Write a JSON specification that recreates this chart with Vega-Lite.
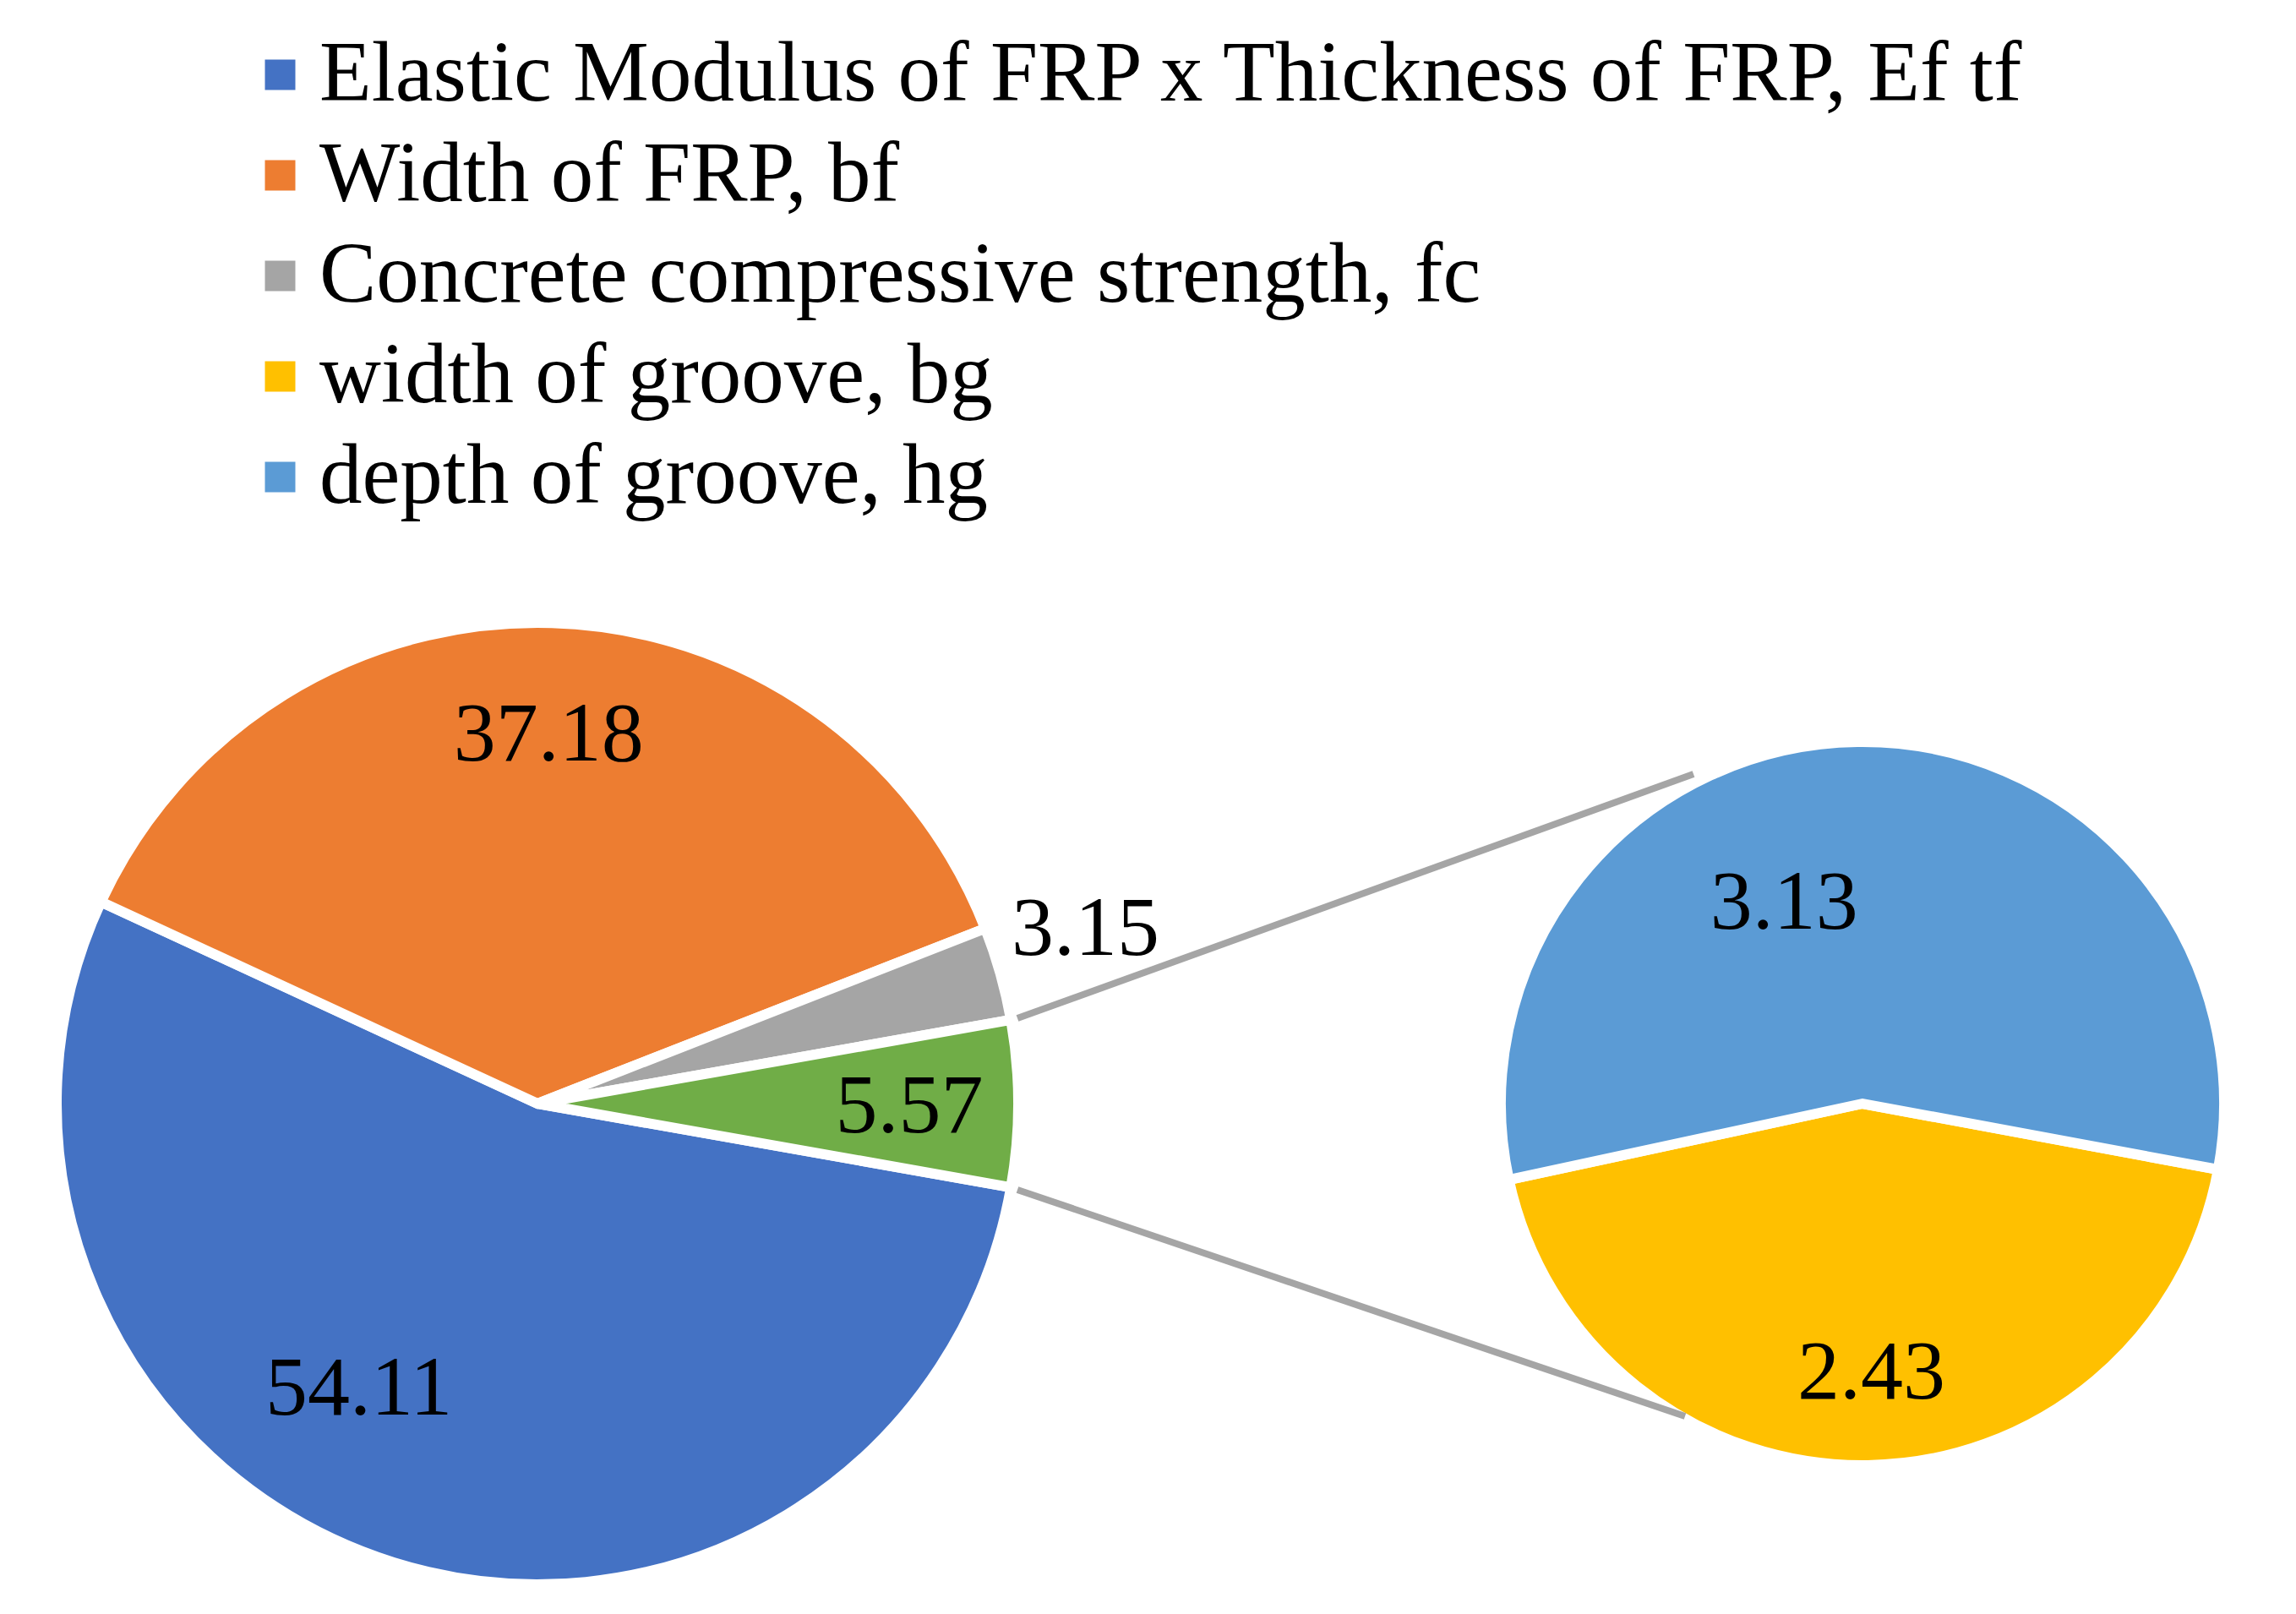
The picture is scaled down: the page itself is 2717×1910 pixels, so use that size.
{
  "$schema": "https://vega.github.io/schema/vega-lite/v6.json",
  "width": 2717,
  "height": 1208,
  "autosize": {"type": "none"},
  "padding": {"left": 0, "top": 702, "right": 0, "bottom": 0},
  "background": "white",
  "config": {"view": {"stroke": null}, "font": "Liberation Serif"},
  "datasets": {
    "main": [
      {"key": "Elastic Modulus of FRP x Thickness of FRP, Ef tf", "id": "ef", "value": 54.11, "order": 1, "pie": "main"},
      {"key": "Width of FRP, bf", "id": "bf", "value": 37.18, "order": 2, "pie": "main"},
      {"key": "Concrete compressive strength, fc", "id": "fc", "value": 3.15, "order": 3, "pie": "main"},
      {"key": "Other", "id": "other", "value": 5.57, "order": 4, "pie": "main"}
    ],
    "secondary": [
      {"key": "width of groove, bg", "id": "bg", "value": 2.43, "order": 1, "pie": "secondary"},
      {"key": "depth of groove, hg", "id": "hg", "value": 3.13, "order": 2, "pie": "secondary"}
    ],
    "connectors": [
      {"pie": "main", "to": "secondary", "side": "top"},
      {"pie": "main", "to": "secondary", "side": "bottom"}
    ]
  },
  "layer": [
    {
      "data": {"name": "main"},
      "encoding": {
        "x": {"field": "pie", "type": "nominal", "scale": {"type": "point", "domain": ["main", "secondary"], "padding": 0.36639, "align": 0.55352}, "axis": null},
        "theta": {"field": "value", "type": "quantitative", "stack": true, "scale": {"type": "linear", "range": [1.745765, 8.02895], "zero": true, "nice": false}},
        "order": {"field": "order", "type": "quantitative"}
      },
      "layer": [
        {
          "mark": {"type": "arc", "outerRadius": 569, "stroke": "white", "strokeWidth": 12},
          "encoding": {
            "color": {
              "field": "key", "type": "nominal",
              "scale": {
                "domain": ["Elastic Modulus of FRP x Thickness of FRP, Ef tf", "Width of FRP, bf", "Concrete compressive strength, fc", "width of groove, bg", "depth of groove, hg", "Other"],
                "range": ["#4472C4", "#ED7D31", "#A5A5A5", "#FFC000", "#5B9BD5", "#70AD47"]
              },
              "legend": {
                "orient": "none", "legendX": 281, "legendY": -664, "direction": "vertical", "title": null,
                "values": ["Elastic Modulus of FRP x Thickness of FRP, Ef tf", "Width of FRP, bf", "Concrete compressive strength, fc", "width of groove, bg", "depth of groove, hg"],
                "symbolType": "square", "symbolSize": 1296, "symbolStrokeWidth": 0,
                "labelFont": "Liberation Serif", "labelFontSize": 101, "labelColor": "black",
                "labelOffset": -4, "rowPadding": 17, "padding": 0, "labelLimit": 0
              }
            }
          }
        },
        {
          "mark": {"type": "text", "radius": 440, "dy": 4, "fontSize": 100, "font": "Liberation Serif", "color": "black", "align": "center", "baseline": "middle"},
          "encoding": {
            "detail": {"field": "key"},
            "text": {"field": "value", "type": "quantitative", "format": ".2f"},
            "opacity": {"condition": {"test": "datum.id == 'bf' || datum.id == 'other'", "value": 1}, "value": 0}
          }
        },
        {
          "mark": {"type": "text", "radius": 392, "dx": -94, "dy": -36, "fontSize": 100, "font": "Liberation Serif", "color": "black", "align": "center", "baseline": "middle"},
          "encoding": {
            "detail": {"field": "key"},
            "text": {"field": "value", "type": "quantitative", "format": ".2f"},
            "opacity": {"condition": {"test": "datum.id == 'ef'", "value": 1}, "value": 0}
          }
        },
        {
          "mark": {"type": "text", "radius": 681, "dx": -7, "dy": -22, "fontSize": 100, "font": "Liberation Serif", "color": "black", "align": "center", "baseline": "middle"},
          "encoding": {
            "detail": {"field": "key"},
            "text": {"field": "value", "type": "quantitative", "format": ".2f"},
            "opacity": {"condition": {"test": "datum.id == 'fc'", "value": 1}, "value": 0}
          }
        }
      ]
    },
    {
      "data": {"name": "secondary"},
      "encoding": {
        "x": {"field": "pie", "type": "nominal", "scale": {"type": "point", "domain": ["main", "secondary"], "padding": 0.36639, "align": 0.55352}, "axis": null},
        "theta": {"field": "value", "type": "quantitative", "stack": true, "scale": {"type": "linear", "range": [1.754056, 8.037241], "zero": true, "nice": false}},
        "order": {"field": "order", "type": "quantitative"}
      },
      "layer": [
        {
          "mark": {"type": "arc", "outerRadius": 428, "stroke": "white", "strokeWidth": 12},
          "encoding": {
            "color": {"field": "key", "type": "nominal"}
          }
        },
        {
          "mark": {"type": "text", "radius": 250, "dx": -89, "dy": 13, "fontSize": 100, "font": "Liberation Serif", "color": "black", "align": "center", "baseline": "middle"},
          "encoding": {
            "detail": {"field": "key"},
            "text": {"field": "value", "type": "quantitative", "format": ".2f"},
            "opacity": {"condition": {"test": "datum.id == 'hg'", "value": 1}, "value": 0}
          }
        },
        {
          "mark": {"type": "text", "radius": 319, "dx": 6, "dy": 0, "fontSize": 100, "font": "Liberation Serif", "color": "black", "align": "center", "baseline": "middle"},
          "encoding": {
            "detail": {"field": "key"},
            "text": {"field": "value", "type": "quantitative", "format": ".2f"},
            "opacity": {"condition": {"test": "datum.id == 'bg'", "value": 1}, "value": 0}
          }
        }
      ]
    },
    {
      "data": {"name": "connectors"},
      "encoding": {
        "x": {"field": "pie", "type": "nominal", "scale": {"type": "point", "domain": ["main", "secondary"], "padding": 0.36639, "align": 0.55352}, "axis": null},
        "x2": {"field": "to"},
        "y": {"datum": 0, "type": "quantitative", "scale": {"domain": [-1, 1]}, "axis": null},
        "y2": {"datum": 0}
      },
      "layer": [
        {
          "transform": [{"filter": "datum.side == 'top'"}],
          "mark": {"type": "rule", "color": "#A5A5A5", "strokeWidth": 8, "xOffset": 568, "yOffset": -101, "x2Offset": -200, "y2Offset": -390}
        },
        {
          "transform": [{"filter": "datum.side == 'bottom'"}],
          "mark": {"type": "rule", "color": "#A5A5A5", "strokeWidth": 8, "xOffset": 568, "yOffset": 102, "x2Offset": -210, "y2Offset": 370}
        }
      ]
    }
  ],
  "resolve": {"scale": {"theta": "independent"}}
}
